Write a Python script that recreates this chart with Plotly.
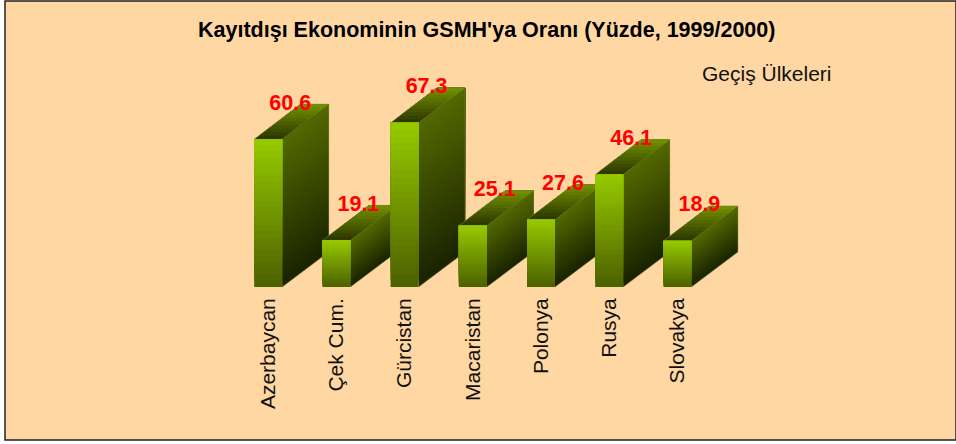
import plotly.graph_objects as go

categories = ["Azerbaycan", "Çek Cum.", "Gürcistan", "Macaristan", "Polonya", "Rusya", "Slovakya"]
values = [60.6, 19.1, 67.3, 25.1, 27.6, 46.1, 18.9]
value_labels = ["60.6", "19.1", "67.3", "25.1", "27.6", "46.1", "18.9"]
chart_title = "Kayıtdışı Ekonominin GSMH'ya Oranı (Yüzde, 1999/2000)"
subtitle = "Geçiş Ülkeleri"

W, H = 956, 444
L, R, T, B = 5, 956, 1, 440  # frame of the plot area, in pixels
PX_PER_UNIT = 2.44
PX_PER_CAT = 68.2
BASE_PX = 287
X0_PX = 268.2  # centre of first bar
BAR_W = 28 / PX_PER_CAT
DX = 46.5 / PX_PER_CAT
DY = 35 / PX_PER_UNIT

x_range = [(L - X0_PX) / PX_PER_CAT, (R - X0_PX) / PX_PER_CAT]
y_range = [(BASE_PX - B) / PX_PER_UNIT, (BASE_PX - T) / PX_PER_UNIT]

FRONT = ((153, 204, 0), (77, 98, 0))
SIDE = ((84, 106, 0), (26, 36, 0))
TOP = ((46, 56, 0), (118, 152, 0))
EDGE = "rgba(125,140,50,0.8)"
BG = "#FFD7A2"


def mix(a, b, t):
    return "rgb(%d,%d,%d)" % tuple(round(a[i] + (b[i] - a[i]) * t) for i in range(3))


def poly(xs, ys, color):
    return go.Scatter(x=xs, y=ys, mode="lines", fill="toself", fillcolor=color,
                      line=dict(width=0), hoverinfo="skip", showlegend=False)


def px_x(p):
    return (p - L) / (R - L)


def px_y(p):
    return (B - p) / (B - T)


fig = go.Figure()
N = 24
NT = 10
for i, v in enumerate(values):
    l, r = i - BAR_W / 2, i + BAR_W / 2
    # side face, painted from the bottom band upward
    for k in range(N):
        t0 = 1 - k / N
        y0 = v * (1 - t0)
        fig.add_trace(poly([r, r + DX, r + DX, r, r], [y0, y0 + DY, v + DY, v, y0],
                           mix(SIDE[0], SIDE[1], t0)))
    # top face, painted from the front band backward
    for k in range(NT):
        d0 = k / NT
        fig.add_trace(poly([l + DX * d0, r + DX * d0, r + DX, l + DX, l + DX * d0],
                           [v + DY * d0, v + DY * d0, v + DY, v + DY, v + DY * d0],
                           mix(TOP[0], TOP[1], d0)))
    # thin light edges of the box
    fig.add_trace(go.Scatter(x=[l, l + DX, r + DX, r + DX, r], y=[v, v + DY, v + DY, DY, 0],
                             mode="lines", line=dict(color=EDGE, width=0.7),
                             hoverinfo="skip", showlegend=False))
    fig.add_trace(go.Scatter(x=[r, r + DX], y=[v, v + DY], mode="lines",
                             line=dict(color=EDGE, width=0.7), hoverinfo="skip", showlegend=False))
    # front face, painted from the bottom band upward
    for k in range(N):
        t0 = 1 - k / N
        y0 = v * (1 - t0)
        fig.add_trace(poly([l, r, r, l, l], [y0, y0, v, v, y0], mix(FRONT[0], FRONT[1], t0)))

fig.add_trace(go.Scatter(
    x=[i + 22 / PX_PER_CAT for i in range(len(values))],
    y=[v + DY for v in values],
    text=value_labels, mode="text", textposition="middle center",
    textfont=dict(family="Liberation Sans", size=21.5, color="#FF0000", weight="bold"),
    hoverinfo="skip", showlegend=False))

fig.update_layout(
    width=W, height=H,
    margin=dict(l=L, r=W - R, t=T, b=H - B, pad=0),
    paper_bgcolor="#FFFFFF", plot_bgcolor=BG,
    showlegend=False,
    xaxis=dict(range=x_range, tickmode="array", tickvals=list(range(len(categories))),
               ticktext=categories, tickangle=-90, showgrid=False, zeroline=False,
               showline=False, anchor="free", position=px_y(BASE_PX),
               ticklabelposition="outside", ticks="", ticklabelstandoff=6,
               tickfont=dict(family="Liberation Sans", size=21, color="#111111"),
               automargin=False, fixedrange=True),
    yaxis=dict(range=y_range, visible=False, showgrid=False, zeroline=False, fixedrange=True),
    shapes=[dict(type="rect", xref="paper", yref="paper", x0=0, x1=1, y0=0, y1=1,
                 line=dict(color="#222222", width=1.5))],
    annotations=[
        dict(text=chart_title, xref="paper", yref="paper", x=px_x(486.5), y=px_y(30),
             showarrow=False, xanchor="center", yanchor="middle",
             font=dict(family="Liberation Sans", size=21.5, color="#000000", weight="bold")),
        dict(text=subtitle, xref="paper", yref="paper", x=px_x(767), y=px_y(74),
             showarrow=False, xanchor="center", yanchor="middle",
             font=dict(family="Liberation Sans", size=21, color="#111111")),
    ],
)
fig.write_html("out.html", config={"displayModeBar": False},
               post_script="document.body.style.margin='0';document.body.style.overflow='hidden';")
